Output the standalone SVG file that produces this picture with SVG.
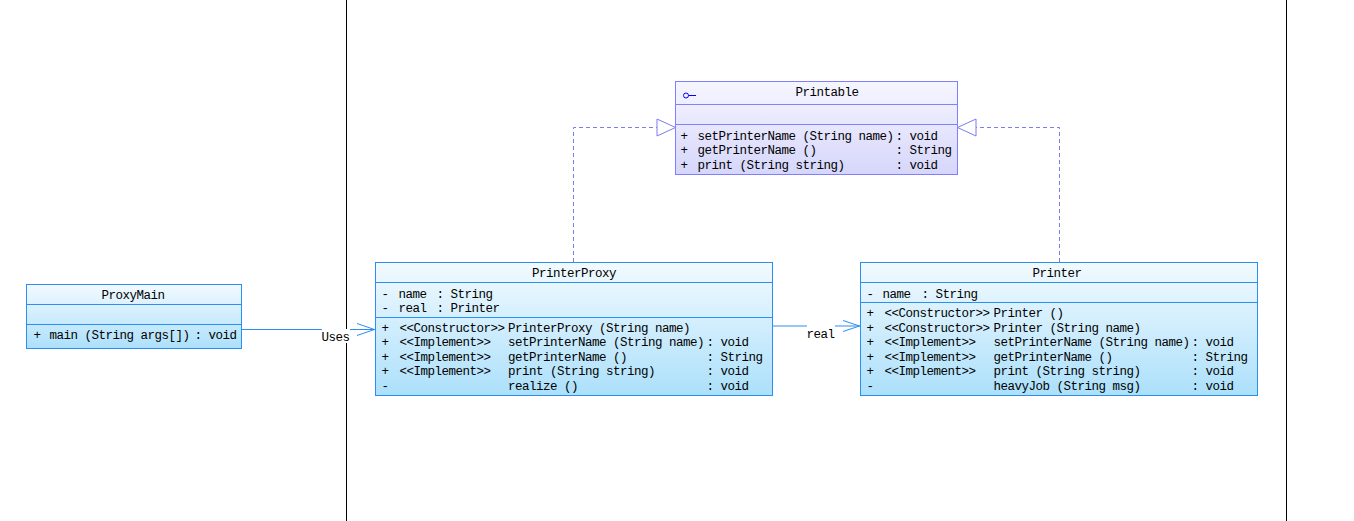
<svg xmlns="http://www.w3.org/2000/svg" width="1354" height="521" viewBox="0 0 1354 521">
<style>
text{font-family:"Liberation Mono","DejaVu Sans Mono",monospace;font-size:12.5px;letter-spacing:-0.5px;fill:#000}
.hd{text-anchor:middle}
.cls{fill:url(#gBlue);stroke:#2b8ef2;stroke-width:1}
.div{stroke:#2b8ef2;stroke-width:1}
.ifc{fill:url(#gLav);stroke:#8080ff;stroke-width:1}
.idiv{stroke:#8080ff;stroke-width:1}
.assoc{stroke:#2b8ef2;stroke-width:1;fill:none}
.real{stroke:#7b7bf5;stroke-width:1;fill:none;stroke-dasharray:4 3}
.tri{fill:#fff;stroke:#7b7bf5;stroke-width:1}
.lane{stroke:#000;stroke-width:1}
</style>
<defs>
<linearGradient id="gBlue" x1="0" y1="0" x2="0" y2="1">
<stop offset="0" stop-color="#f2faff"/>
<stop offset="1" stop-color="#ace0fb"/>
</linearGradient>
<linearGradient id="gLav" x1="0" y1="0" x2="0" y2="1">
<stop offset="0" stop-color="#f6f6ff"/>
<stop offset="1" stop-color="#d6d6fb"/>
</linearGradient>
</defs>
<rect width="1354" height="521" fill="#fff"/>
<g id="lanes">
<line class="lane" x1="346.5" y1="0" x2="346.5" y2="521"/>
<line class="lane" x1="1286.5" y1="0" x2="1286.5" y2="521"/>
</g>
<g id="connectors">
<path class="real" d="M573.5 262 V127.5 H657"/>
<polygon class="tri" points="657,119 675.5,127.5 657,136"/>
<path class="real" d="M1059.5 262 V127.5 H976"/>
<polygon class="tri" points="976,119 957.5,127.5 976,136"/>
<line class="assoc" x1="241" y1="329.5" x2="375" y2="329.5"/>
<polyline class="assoc" points="357,323.5 374.5,329.5 357,335.5"/>
<rect x="322" y="329" width="28" height="14" fill="#fff"/>
<text x="321.5" y="340.5">Uses</text>
<line class="assoc" x1="772" y1="326" x2="860" y2="326"/>
<polyline class="assoc" points="843,320.5 859.5,326 843,331.5"/>
<rect x="807" y="322" width="28" height="16" fill="#fff"/>
<text x="806.5" y="338">real</text>
</g>
<g id="Printable">
<rect class="ifc" x="675.5" y="81.5" width="282" height="93"/>
<line class="idiv" x1="675.5" y1="104.5" x2="957.5" y2="104.5"/>
<line class="idiv" x1="675.5" y1="124.5" x2="957.5" y2="124.5"/>
<circle cx="686" cy="95.5" r="2.5" fill="none" stroke="#0000ff" stroke-width="1"/>
<line x1="688.5" y1="95.5" x2="696" y2="95.5" stroke="#0000ff" stroke-width="1"/>
<text class="hd" x="827" y="96">Printable</text>
<text x="680.5" y="139.5">+</text><text x="697.5" y="139.5">setPrinterName (String name)</text><text x="895.5" y="139.5">: void</text>
<text x="680.5" y="154">+</text><text x="697.5" y="154">getPrinterName ()</text><text x="895.5" y="154">: String</text>
<text x="680.5" y="168.5">+</text><text x="697.5" y="168.5">print (String string)</text><text x="895.5" y="168.5">: void</text>
</g>
<g id="ProxyMain">
<rect class="cls" x="26.5" y="284.5" width="215" height="64"/>
<line class="div" x1="26.5" y1="304.5" x2="241.5" y2="304.5"/>
<line class="div" x1="26.5" y1="324.5" x2="241.5" y2="324.5"/>
<text class="hd" x="133" y="298.5">ProxyMain</text>
<text x="33.5" y="339">+</text><text x="49.5" y="339">main (String args[])</text><text x="194.5" y="339">: void</text>
</g>
<g id="PrinterProxy">
<rect class="cls" x="375.5" y="262.5" width="397" height="133"/>
<line class="div" x1="375.5" y1="282.5" x2="772.5" y2="282.5"/>
<line class="div" x1="375.5" y1="317.5" x2="772.5" y2="317.5"/>
<text class="hd" x="574" y="276.5">PrinterProxy</text>
<text x="381.5" y="297.5">-</text><text x="398.5" y="297.5">name</text><text x="436.5" y="297.5">: String</text>
<text x="381.5" y="312">-</text><text x="398.5" y="312">real</text><text x="436.5" y="312">: Printer</text>
<text x="381.5" y="331.5">+</text><text x="399.5" y="331.5">&lt;&lt;Constructor&gt;&gt;</text><text x="508" y="331.5">PrinterProxy (String name)</text>
<text x="381.5" y="346">+</text><text x="399.5" y="346">&lt;&lt;Implement&gt;&gt;</text><text x="508" y="346">setPrinterName (String name)</text><text x="706.5" y="346">: void</text>
<text x="381.5" y="360.5">+</text><text x="399.5" y="360.5">&lt;&lt;Implement&gt;&gt;</text><text x="508" y="360.5">getPrinterName ()</text><text x="706.5" y="360.5">: String</text>
<text x="381.5" y="375">+</text><text x="399.5" y="375">&lt;&lt;Implement&gt;&gt;</text><text x="508" y="375">print (String string)</text><text x="706.5" y="375">: void</text>
<text x="381.5" y="389.5">-</text><text x="508" y="389.5">realize ()</text><text x="706.5" y="389.5">: void</text>
</g>
<g id="Printer">
<rect class="cls" x="860.5" y="262.5" width="397" height="133"/>
<line class="div" x1="860.5" y1="282.5" x2="1257.5" y2="282.5"/>
<line class="div" x1="860.5" y1="302.5" x2="1257.5" y2="302.5"/>
<text class="hd" x="1057" y="276.5">Printer</text>
<text x="866.5" y="297.5">-</text><text x="882.5" y="297.5">name</text><text x="921.5" y="297.5">: String</text>
<text x="866.5" y="317">+</text><text x="884.5" y="317">&lt;&lt;Constructor&gt;&gt;</text><text x="993.5" y="317">Printer ()</text>
<text x="866.5" y="331.5">+</text><text x="884.5" y="331.5">&lt;&lt;Constructor&gt;&gt;</text><text x="993.5" y="331.5">Printer (String name)</text>
<text x="866.5" y="346">+</text><text x="884.5" y="346">&lt;&lt;Implement&gt;&gt;</text><text x="993.5" y="346">setPrinterName (String name)</text><text x="1191.5" y="346">: void</text>
<text x="866.5" y="360.5">+</text><text x="884.5" y="360.5">&lt;&lt;Implement&gt;&gt;</text><text x="993.5" y="360.5">getPrinterName ()</text><text x="1191.5" y="360.5">: String</text>
<text x="866.5" y="375">+</text><text x="884.5" y="375">&lt;&lt;Implement&gt;&gt;</text><text x="993.5" y="375">print (String string)</text><text x="1191.5" y="375">: void</text>
<text x="866.5" y="389.5">-</text><text x="993.5" y="389.5">heavyJob (String msg)</text><text x="1191.5" y="389.5">: void</text>
</g>
</svg>
